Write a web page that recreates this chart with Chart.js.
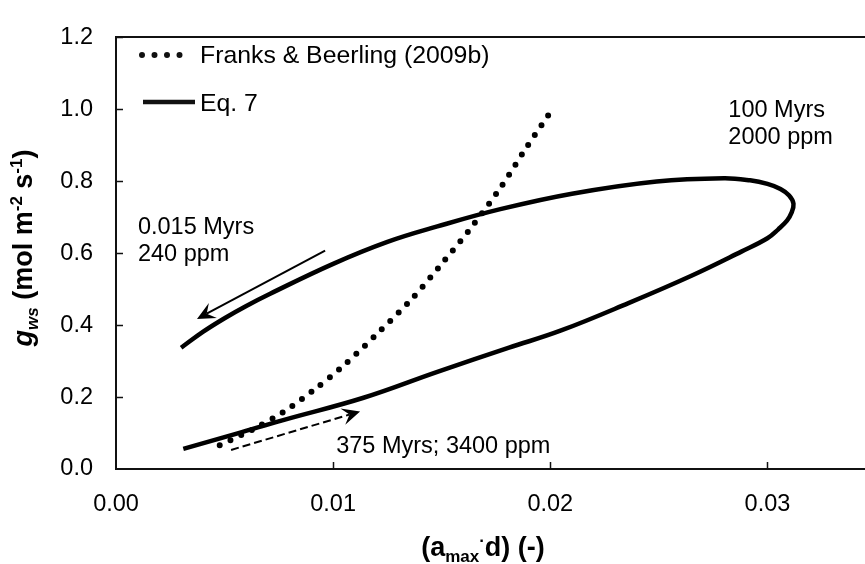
<!DOCTYPE html>
<html>
<head>
<meta charset="utf-8">
<title>gws vs amax·d</title>
<script src="https://cdn.jsdelivr.net/npm/chart.js@4.4.1/dist/chart.umd.min.js"></script>
<style>
  html, body { margin: 0; padding: 0; background: #fff; overflow: hidden; }
  #wrap { width: 876px; height: 564px; }
</style>
</head>
<body>
<div id="wrap"><canvas id="gwsChart" width="876" height="564"></canvas></div>
<script>
const FONT = "'Liberation Sans', Arial, Helvetica, sans-serif";

// Franks & Beerling (2009b)
const franksX = [0.0047, 0.0063, 0.0077, 0.0091, 0.0104, 0.0120, 0.0136, 0.0150, 0.0164, 0.0177, 0.0189, 0.0199];
const franksY = [0.064, 0.110, 0.158, 0.219, 0.283, 0.374, 0.471, 0.570, 0.674, 0.781, 0.893, 0.982];

// Eq. 7, from 375 Myrs round the loop to 0.015 Myrs
const eq7X = [0.0031, 0.0056, 0.0077, 0.0114, 0.0148, 0.0181, 0.0205, 0.0236, 0.0265, 0.0288, 0.0300, 0.0305,
  0.0309, 0.0311, 0.0312, 0.0310, 0.0306, 0.0300, 0.0292, 0.0280, 0.0249, 0.0210, 0.0177, 0.0148, 0.0125,
  0.0100, 0.0071, 0.0060, 0.0050, 0.0040, 0.0030];
const eq7Y = [0.056, 0.099, 0.136, 0.198, 0.270, 0.337, 0.385, 0.461, 0.537, 0.604, 0.641, 0.666,
  0.690, 0.711, 0.737, 0.760, 0.778, 0.792, 0.802, 0.808, 0.799, 0.765, 0.722, 0.674, 0.631,
  0.570, 0.487, 0.453, 0.419, 0.381, 0.337];

const seriesNames = ["Franks & Beerling (2009b)", "Eq. 7"];
const xTicks = [0, 0.01, 0.02, 0.03];
const yTicks = [0, 0.2, 0.4, 0.6, 0.8, 1.0, 1.2];

// arrows and notes, placed in data units
const arrowNotes = [
  { from: [0.00963, 0.607], to: [0.00373, 0.417], dash: [] },
  { from: [0.0053, 0.053], to: [0.01124, 0.160], dash: [8, 4] }
];
const textNotes = [
  { lines: ["0.015 Myrs", "240 ppm"], at: [0.00101, 0.652] },
  { lines: ["100 Myrs", "2000 ppm"], at: [0.0282, 0.979] },
  { lines: ["375 Myrs; 3400 ppm"], at: [0.01014, 0.045] }
];

function toPoints(xs, ys) {
  return xs.map((v, i) => ({ x: v, y: ys[i] }));
}

// text made of pieces with their own size, style and offset
function richWidth(ctx, parts) {
  let w = 0;
  for (const p of parts) {
    ctx.font = p.font;
    w += ctx.measureText(p.t).width;
  }
  return w;
}

function drawRich(ctx, parts, x, y) {
  let cx = x;
  for (const p of parts) {
    ctx.font = p.font;
    ctx.fillText(p.t, cx, y + (p.dy || 0));
    cx += ctx.measureText(p.t).width;
  }
}

function drawArrow(ctx, x, y, note) {
  const x0 = x.getPixelForValue(note.from[0]);
  const y0 = y.getPixelForValue(note.from[1]);
  const x1 = x.getPixelForValue(note.to[0]);
  const y1 = y.getPixelForValue(note.to[1]);
  const ang = Math.atan2(y1 - y0, x1 - x0);
  const len = 18, half = 8.5, notch = 11;
  const ux = Math.cos(ang), uy = Math.sin(ang);

  ctx.strokeStyle = "#000";
  ctx.lineWidth = 2;
  ctx.setLineDash(note.dash);
  ctx.beginPath();
  ctx.moveTo(x0, y0);
  ctx.lineTo(x1 - ux * notch, y1 - uy * notch);
  ctx.stroke();
  ctx.setLineDash([]);

  ctx.fillStyle = "#000";
  ctx.beginPath();
  ctx.moveTo(x1, y1);
  ctx.lineTo(x1 - ux * len - uy * half, y1 - uy * len + ux * half);
  ctx.lineTo(x1 - ux * notch, y1 - uy * notch);
  ctx.lineTo(x1 - ux * len + uy * half, y1 - uy * len - ux * half);
  ctx.closePath();
  ctx.fill();
}

const overlay = {
  id: "overlay",
  afterDraw(chart) {
    const { ctx, chartArea: area, scales: { x, y } } = chart;
    ctx.save();

    // top edge of the plot frame
    ctx.strokeStyle = "#111";
    ctx.lineWidth = 2;
    ctx.beginPath();
    ctx.moveTo(area.left, area.top);
    ctx.lineTo(area.right, area.top);
    ctx.stroke();

    // tick marks point into the plot
    ctx.lineWidth = 1.5;
    ctx.beginPath();
    for (const v of xTicks.slice(1)) {
      const px = Math.round(x.getPixelForValue(v)) + 0.5;
      ctx.moveTo(px, area.bottom);
      ctx.lineTo(px, area.bottom - 7);
    }
    for (const v of yTicks.slice(1)) {
      const py = Math.round(y.getPixelForValue(v)) + 0.5;
      ctx.moveTo(area.left, py);
      ctx.lineTo(area.left + 7, py);
    }
    ctx.stroke();

    // legend
    ctx.lineCap = "round";
    ctx.lineWidth = 6;
    ctx.setLineDash([0, 12.5]);
    ctx.beginPath();
    ctx.moveTo(area.left + 26, 55);
    ctx.lineTo(area.left + 76, 55);
    ctx.stroke();
    ctx.setLineDash([]);
    ctx.lineCap = "butt";
    ctx.lineWidth = 4.5;
    ctx.beginPath();
    ctx.moveTo(area.left + 27, 102);
    ctx.lineTo(area.left + 79, 102);
    ctx.stroke();

    ctx.fillStyle = "#000";
    ctx.textAlign = "left";
    ctx.textBaseline = "alphabetic";
    ctx.font = "24.8px " + FONT;
    ctx.fillText(seriesNames[0], area.left + 84, 63);
    ctx.fillText(seriesNames[1], area.left + 84, 111);

    // notes on the curve
    for (const a of arrowNotes) drawArrow(ctx, x, y, a);
    ctx.fillStyle = "#000";
    ctx.font = "23.5px " + FONT;
    for (const n of textNotes) {
      const px = x.getPixelForValue(n.at[0]);
      const py = y.getPixelForValue(n.at[1]);
      n.lines.forEach((line, i) => ctx.fillText(line, px, py + i * 27));
    }

    // axis titles with sub- and superscripts
    const big = "bold 27px " + FONT;
    const small = "bold 17px " + FONT;
    const xTitle = [
      { t: "(a", font: big },
      { t: "max", font: small, dy: 6 },
      { t: "·", font: small, dy: -10 },
      { t: "d) (-)", font: big }
    ];
    const xw = richWidth(ctx, xTitle);
    drawRich(ctx, xTitle, 483 - xw / 2, 556);

    const yTitle = [
      { t: "g", font: "italic " + big },
      { t: "ws", font: "italic " + small, dy: 6 },
      { t: " (mol m", font: big },
      { t: "-2", font: small, dy: -10 },
      { t: " s", font: big },
      { t: "-1", font: small, dy: -10 },
      { t: ")", font: big }
    ];
    const yw = richWidth(ctx, yTitle);
    ctx.translate(32, 248);
    ctx.rotate(-Math.PI / 2);
    drawRich(ctx, yTitle, -yw / 2, 0);

    ctx.restore();
  }
};

const ctx = document.getElementById("gwsChart").getContext("2d");
new Chart(ctx, {
  type: "scatter",
  data: {
    datasets: [
      {
        label: seriesNames[0],
        // stroked from the top end down so the dot pattern starts on the last value
        data: toPoints(franksX, franksY).reverse(),
        showLine: true,
        borderColor: "#000",
        borderWidth: 6,
        borderDash: [0, 11.8],
        borderCapStyle: "round",
        pointRadius: 0,
        tension: 0.3
      },
      {
        label: seriesNames[1],
        data: toPoints(eq7X, eq7Y),
        showLine: true,
        borderColor: "#000",
        borderWidth: 4.5,
        pointRadius: 0,
        tension: 0.4
      }
    ]
  },
  options: {
    responsive: false,
    animation: false,
    devicePixelRatio: 1,
    layout: { padding: { top: 20, right: 0, bottom: 0, left: 0 } },
    plugins: {
      legend: { display: false },
      tooltip: { enabled: false }
    },
    scales: {
      x: {
        type: "linear",
        min: 0,
        max: 0.035,
        afterFit(scale) { scale.height = 95; },
        afterBuildTicks(scale) { scale.ticks = xTicks.map((v) => ({ value: v })); },
        grid: { display: false, drawTicks: false },
        border: { display: true, color: "#111", width: 2 },
        ticks: {
          color: "#000",
          padding: 21,
          maxRotation: 0,
          autoSkip: false,
          font: { family: FONT, size: 23.5 },
          callback: (v) => Number(v).toFixed(2)
        }
      },
      y: {
        type: "linear",
        min: 0,
        max: 1.2,
        afterFit(scale) { scale.width = 116; },
        afterBuildTicks(scale) { scale.ticks = yTicks.map((v) => ({ value: v })); },
        grid: { display: false, drawTicks: false },
        border: { display: true, color: "#111", width: 2 },
        ticks: {
          color: "#000",
          padding: 23,
          autoSkip: false,
          font: { family: FONT, size: 23.5 },
          callback: (v) => Number(v).toFixed(1)
        }
      }
    }
  },
  plugins: [overlay]
});
</script>
</body>
</html>
